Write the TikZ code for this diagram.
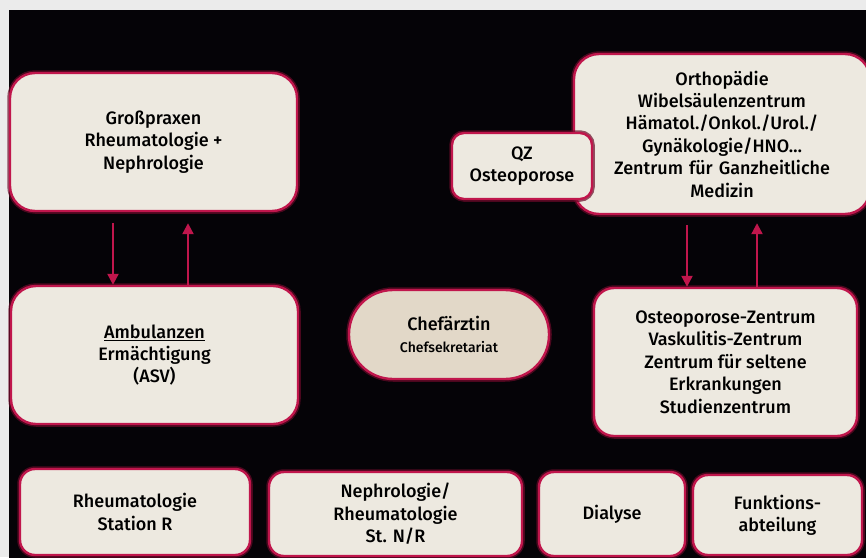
\documentclass[tikz,border=0pt]{standalone}
\usepackage{fontspec}
\setmainfont{Fira Sans Medium}
\usetikzlibrary{arrows.meta,calc}
\definecolor{crim}{HTML}{C0164C}
\definecolor{glow}{HTML}{6A0A28}
\definecolor{cream}{HTML}{EDE9E0}
\definecolor{pillfill}{HTML}{E2D8C8}
\definecolor{panel}{HTML}{050307}
\definecolor{greybg}{HTML}{EBEBEB}
\tikzset{
  box/.style={draw=crim, line width=2.4pt, fill=cream, align=center, inner sep=0pt,
    font=\fontsize{18}{22.4}\selectfont,
    preaction={draw=glow, line width=5.5pt, opacity=0.7}},
  arr/.style={draw=crim, line width=2.2pt, -{Triangle[length=11pt,width=11pt]}}
}
\begin{document}
\begin{tikzpicture}[x=1pt,y=-1pt]
\useasboundingbox (0,0) rectangle (866,557);
\clip (0,0) rectangle (866,557);
\fill[greybg] (0,0) rectangle (866,557);
\fill[panel] (9,10) rectangle (870,560);

\node[box, rounded corners=25pt, minimum width=287pt, minimum height=138pt] (gross) at (153.5,142)
  {Großpraxen\\Rheumatologie +\\Nephrologie};
\node[box, rounded corners=25pt, minimum width=287pt, minimum height=138pt] (amb) at (154.5,355)
  {\underline{Ambulanzen}\\Ermächtigung\\(ASV)};
\node[box, fill=pillfill, rounded corners=44pt, minimum width=200pt, minimum height=89pt] (chef) at (449,334.5)
  {Chefärztin\\[0pt]{\fontsize{14}{16}\selectfont Chefsekretariat}};
\node[box, rounded corners=25pt, minimum width=296pt, minimum height=160pt, text width=290pt] (orth) at (722,134)
  {Orthopädie\\Wibelsäulenzentrum\\Hämatol./Onkol./Urol./\\Gynäkologie/HNO…\\Zentrum für Ganzheitliche\\Medizin};
\node[box, rounded corners=12pt, minimum width=140pt, minimum height=66pt] (qz) at (522,166)
  {QZ\\Osteoporose};
\node[box, rounded corners=20pt, minimum width=263pt, minimum height=148pt] (oz) at (725.5,362)
  {Osteoporose-Zentrum\\Vaskulitis-Zentrum\\Zentrum für seltene\\Erkrankungen\\Studienzentrum};

\node[box, rounded corners=15pt, minimum width=230pt, minimum height=86pt] (rs) at (135,512)
  {Rheumatologie\\Station R};
\node[box, rounded corners=15pt, minimum width=253pt, minimum height=84pt] (nr) at (395.5,514)
  {Nephrologie/\\Rheumatologie\\St. N/R};
\node[box, rounded corners=15pt, minimum width=146pt, minimum height=84pt] (dia) at (612,514)
  {Dialyse};
\node[box, rounded corners=15pt, minimum width=169pt, minimum height=80pt] (fa) at (777.5,515)
  {Funktions-\\abteilung};

\draw[arr] ($(gross.south)+(-40.5,11)$) -- ($(amb.north)+(-41.5,0)$);
\draw[arr] ($(amb.north)+(33.5,0)$) -- ($(gross.south)+(34.5,11)$);
\draw[arr] ($(orth.south)+(-35,10)$) -- ($(oz.north)+(-38.5,0)$);
\draw[arr] ($(oz.north)+(31.5,0)$) -- ($(orth.south)+(35,8)$);
\end{tikzpicture}
\end{document}
